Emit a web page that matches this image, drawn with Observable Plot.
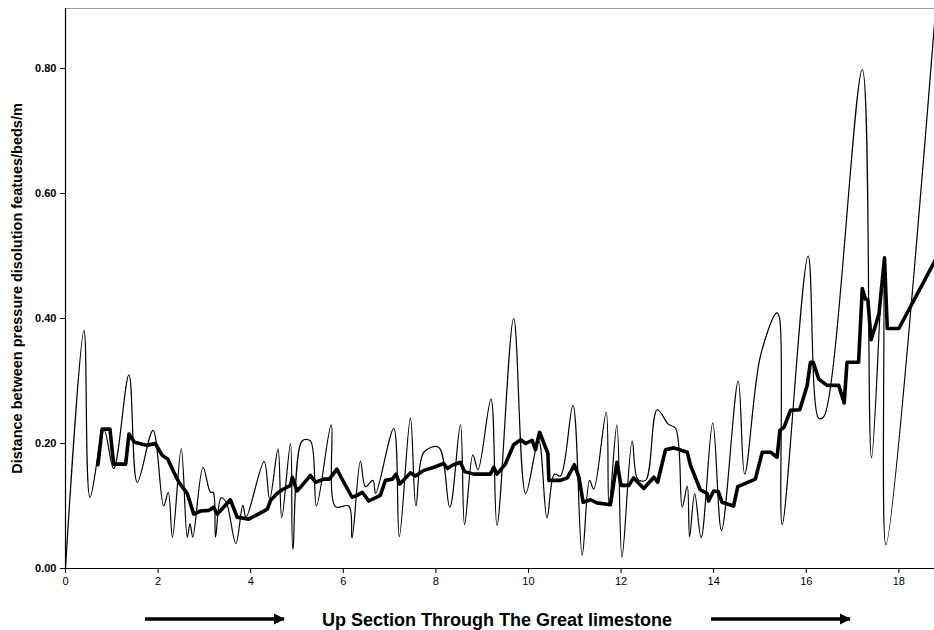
<!DOCTYPE html>
<html>
<head>
<meta charset="utf-8">
<script src="https://cdn.jsdelivr.net/npm/d3@7"></script>
<script src="https://cdn.jsdelivr.net/npm/@observablehq/plot@0.6"></script>
<style>
  html, body { margin: 0; padding: 0; background: #fff; }
  body { width: 934px; height: 630px; overflow: hidden; font-family: "Liberation Sans", Arial, sans-serif; }
  #chart svg { display: block; }
  #below { position: relative; width: 934px; height: 38px; }
  #below svg { position: absolute; left: 0; top: 0; }
</style>
</head>
<body>
<div id="chart"></div>
<div id="below">
  <svg width="934" height="38">
    <defs>
      <marker id="ah" viewBox="0 0 10 10" refX="9" refY="5" markerWidth="3.2" markerHeight="3.2" orient="auto" markerUnits="strokeWidth">
        <path d="M0,0 L10,5 L0,10 z" fill="#000"/>
      </marker>
    </defs>
    <line x1="145" y1="27" x2="284" y2="27" stroke="#000" stroke-width="3.5" marker-end="url(#ah)"/>
    <line x1="711" y1="27" x2="850" y2="27" stroke="#000" stroke-width="3.5" marker-end="url(#ah)"/>
    <text x="497" y="34" text-anchor="middle" font-family="Liberation Sans, Arial, sans-serif" font-weight="bold" font-size="18">Up Section Through The Great limestone</text>
  </svg>
</div>
<script>
// ---- data ----
const thinX = [0.00,0.40,0.53,0.83,1.04,1.37,1.55,1.89,2.12,2.22,2.31,2.50,2.63,2.69,2.75,2.97,3.13,3.19,3.24,3.36,3.47,3.68,3.83,3.90,4.29,4.41,4.59,4.67,4.86,4.91,5.11,5.29,5.42,5.74,5.83,6.12,6.19,6.37,6.48,6.64,6.70,7.09,7.21,7.45,7.57,7.74,8.06,8.30,8.53,8.62,8.80,8.91,9.19,9.32,9.68,9.94,10.22,10.40,10.56,10.69,10.96,11.16,11.32,11.41,11.68,11.74,11.91,12.02,12.24,12.36,12.53,12.78,13.02,13.18,13.32,13.43,13.48,13.59,13.73,13.98,14.17,14.53,14.67,15.01,15.36,15.42,15.48,16.04,16.27,16.38,17.21,17.41,17.66,17.72,18.80];
const thinY = [0.000,0.381,0.114,0.222,0.160,0.310,0.138,0.221,0.100,0.122,0.050,0.192,0.050,0.072,0.050,0.162,0.122,0.122,0.050,0.113,0.106,0.040,0.101,0.082,0.171,0.111,0.191,0.081,0.200,0.031,0.204,0.204,0.100,0.230,0.099,0.100,0.049,0.172,0.131,0.141,0.120,0.224,0.051,0.241,0.100,0.186,0.194,0.098,0.230,0.070,0.182,0.158,0.271,0.069,0.400,0.120,0.205,0.081,0.151,0.148,0.261,0.021,0.141,0.127,0.250,0.100,0.230,0.018,0.204,0.143,0.141,0.254,0.231,0.224,0.098,0.132,0.051,0.120,0.049,0.233,0.061,0.300,0.151,0.340,0.409,0.402,0.070,0.500,0.240,0.243,0.798,0.177,0.480,0.038,0.900];

const avgX = [0.70,0.79,0.96,1.04,1.30,1.37,1.49,1.76,1.94,2.09,2.21,2.34,2.45,2.63,2.77,2.92,3.10,3.20,3.28,3.56,3.71,3.96,4.36,4.43,4.57,4.68,4.86,4.90,5.00,5.11,5.29,5.40,5.58,5.70,5.86,6.01,6.19,6.30,6.41,6.55,6.80,6.91,7.06,7.14,7.22,7.45,7.56,7.74,7.96,8.17,8.25,8.35,8.53,8.62,8.82,9.18,9.25,9.32,9.50,9.68,9.83,9.94,10.08,10.15,10.24,10.42,10.44,10.69,10.84,10.99,11.09,11.18,11.34,11.48,11.77,11.91,12.00,12.17,12.27,12.49,12.71,12.79,12.96,13.14,13.43,13.50,13.71,13.86,13.89,14.00,14.10,14.18,14.43,14.52,14.90,15.05,15.23,15.37,15.43,15.52,15.66,15.86,16.02,16.09,16.15,16.27,16.45,16.70,16.82,16.88,17.13,17.21,17.28,17.33,17.40,17.57,17.69,17.75,18.00,18.80];
const avgY = [0.166,0.223,0.223,0.167,0.167,0.215,0.202,0.197,0.200,0.181,0.175,0.154,0.138,0.120,0.087,0.092,0.093,0.098,0.087,0.110,0.082,0.079,0.095,0.109,0.120,0.126,0.133,0.146,0.124,0.133,0.149,0.138,0.143,0.143,0.159,0.138,0.114,0.117,0.122,0.108,0.117,0.141,0.143,0.151,0.135,0.153,0.148,0.157,0.162,0.168,0.160,0.165,0.170,0.155,0.151,0.151,0.162,0.151,0.167,0.198,0.206,0.200,0.205,0.190,0.218,0.184,0.141,0.141,0.145,0.166,0.146,0.106,0.110,0.105,0.102,0.170,0.133,0.133,0.145,0.128,0.146,0.138,0.190,0.193,0.186,0.165,0.126,0.120,0.108,0.124,0.123,0.106,0.100,0.131,0.143,0.186,0.186,0.178,0.221,0.226,0.253,0.254,0.293,0.330,0.330,0.303,0.293,0.293,0.265,0.330,0.330,0.448,0.431,0.430,0.366,0.407,0.497,0.384,0.384,0.495];

const xTicks = [0, 2, 4, 6, 8, 10, 12, 14, 16, 18];
const yTicks = [0, 0.2, 0.4, 0.6, 0.8];
const xMax = 18.77;
const yMax = 0.896;
const yLabel = "Distance between pressure disolution featues/beds/m";

const thin = thinX.map((x, i) => ({x, y: thinY[i]}));
const avg = avgX.map((x, i) => ({x, y: avgY[i]}));

const chart = Plot.plot({
  width: 934,
  height: 592,
  marginTop: 8,
  marginLeft: 65,
  marginRight: 0,
  marginBottom: 24,
  style: {fontFamily: "Liberation Sans, Arial, sans-serif", background: "#fff", color: "#000"},
  x: {domain: [0, xMax]},
  y: {domain: [0, yMax]},
  marks: [
    Plot.ruleY([yMax], {stroke: "#9a9a9a", strokeWidth: 1}),
    Plot.line(thin, {x: "x", y: "y", curve: "catmull-rom", stroke: "#000", strokeWidth: 1.2, clip: true}),
    Plot.line(avg, {x: "x", y: "y", stroke: "#000", strokeWidth: 3.6, strokeLinejoin: "round", clip: true}),
    Plot.ruleX([0], {stroke: "#000", strokeWidth: 1.2}),
    Plot.ruleY([0], {stroke: "#000", strokeWidth: 1.2}),
    Plot.axisX({ticks: xTicks, tickSize: 5, tickPadding: 4, label: null, fontSize: 11}),
    Plot.axisY({ticks: yTicks, tickFormat: d3.format(".2f"), tickSize: 5, tickPadding: 4, label: null, fontSize: 11, fontWeight: "bold"}),
    Plot.text([yLabel], {frameAnchor: "left", textAnchor: "middle", rotate: -90, dx: -48, fontWeight: "bold", fontSize: 14.5, text: d => d})
  ]
});
document.getElementById("chart").appendChild(chart);
</script>
</body>
</html>
